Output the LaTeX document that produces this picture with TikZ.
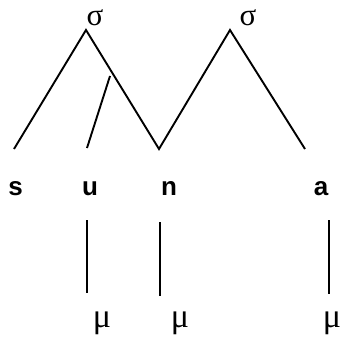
\documentclass[tikz,border=0pt]{standalone}
\usepackage{fontspec}
\setmainfont{Liberation Sans}
\newfontfamily\grkfont{Liberation Serif}
\usetikzlibrary{positioning}
\tikzset{
  branch/.style={black, line width=1.9pt},
  syl/.style={inner sep=0pt, anchor=base, font=\grkfont\fontsize{31}{33}\selectfont},
  seg/.style={inner sep=0pt, anchor=base, font=\bfseries\fontsize{26}{30}\selectfont},
  mora/.style={inner sep=0pt, anchor=base, font=\grkfont\fontsize{34}{36}\selectfont},
}
\begin{document}
\begin{tikzpicture}[x=1pt, y=-1pt]
  \useasboundingbox (0,0) rectangle (340,341);
  % syllable tops
  \node[syl] (sig1) at (95,25) {σ};
  \node[syl] (sig2) at (248,25) {σ};
  \coordinate (apex1) at (86,30);
  \coordinate (apex2) at (230,30);
  % branch feet
  \coordinate (footS) at (14,149);
  \coordinate (footU) at (87,148);
  \coordinate (footN) at (159,149);
  \coordinate (footA) at (305,149);
  \coordinate (joinU) at (110,76);
  \draw[branch] (footS) -- (apex1) -- (footN) -- (apex2) -- (footA);
  \draw[branch] (footU) -- (joinU);
  % segments
  \node[seg] (segS) at (15.5,195) {s};
  \node[seg] (segU) at (90,195) {u};
  \node[seg] (segN) at (169,195) {n};
  \node[seg] (segA) at (321,195) {a};
  % moras
  \node[mora] (muU) at (102,327) {μ};
  \node[mora] (muN) at (180,327) {μ};
  \node[mora] (muA) at (332,327) {μ};
  \coordinate (topU) at (87,220);
  \coordinate (botU) at (87,293);
  \coordinate (topN) at (160,222);
  \coordinate (botN) at (160,296);
  \coordinate (topA) at (329,220);
  \coordinate (botA) at (329,294);
  \foreach \m in {U,N,A}
    \draw[branch] (top\m) -- (bot\m);
\end{tikzpicture}
\end{document}
